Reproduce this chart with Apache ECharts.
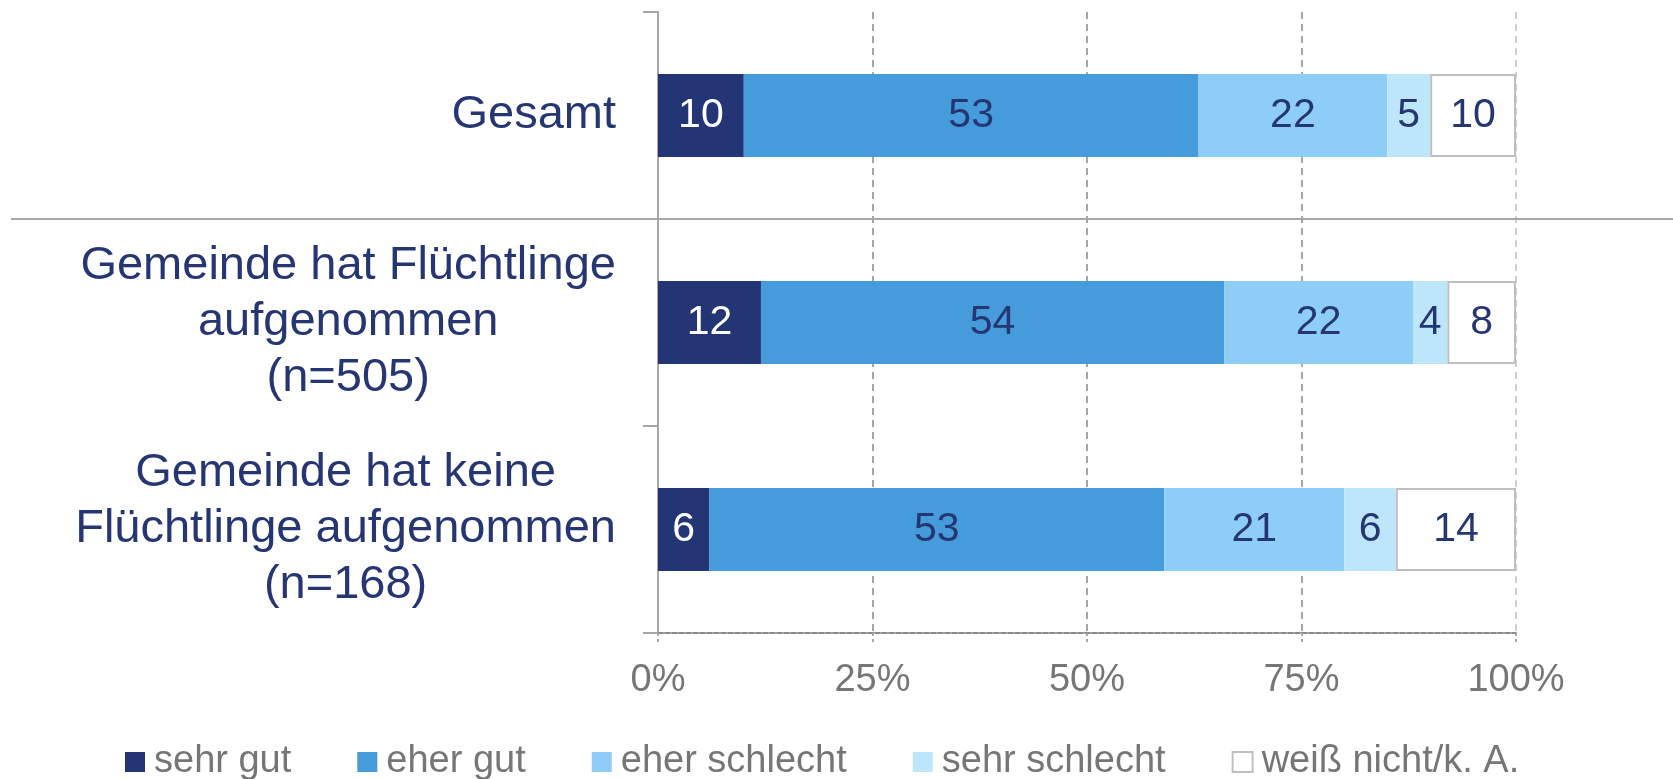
<!DOCTYPE html>
<html>
<head>
<meta charset="utf-8">
<script src="https://cdn.jsdelivr.net/npm/echarts@6/dist/echarts.min.js"></script>
<style>
  html, body { margin: 0; padding: 0; background: #fff; }
  #chart { width: 1673px; height: 779px; }
</style>
</head>
<body>
<div id="chart"></div>
<script>
// data
var categories = [
  'Gesamt',
  'Gemeinde hat Flüchtlinge\naufgenommen\n(n=505)',
  'Gemeinde hat keine\nFlüchtlinge aufgenommen\n(n=168)'
]
var sehrGut = [10, 12, 6]
var eherGut = [53, 54, 53]
var eherSchlecht = [22, 22, 21]
var sehrSchlecht = [5, 4, 6]
var weissNicht = [10, 8, 14]
var seriesNames = ['sehr gut', 'eher gut', 'eher schlecht', 'sehr schlecht', 'weiß nicht/k. A.']

var FONT = '"Liberation Sans", Arial, sans-serif'
var NAVY = '#253672'
var GREY = '#767676'

function makeSeries (name, data, color, labelColor, extra) {
  var s = {
    name: name,
    type: 'bar',
    stack: 'total',
    barWidth: '40%',
    data: data,
    itemStyle: { color: color },
    label: {
      show: true,
      position: 'inside',
      color: labelColor,
      fontSize: 41,
      fontFamily: FONT
    }
  }
  if (extra) s.itemStyle = Object.assign(s.itemStyle, extra)
  return s
}

var chart = echarts.init(document.getElementById('chart'))

var option = {
  animation: false,
  backgroundColor: '#fff',
  grid: { left: 658, right: 157, top: 12, bottom: 146 },
  legend: {
    top: 738,
    left: 120,
    itemWidth: 20,
    itemHeight: 20,
    itemGap: 66,
    icon: 'rect',
    textStyle: { color: GREY, fontSize: 38, fontFamily: FONT, padding: [0, 0, 0, 4] },
    data: seriesNames
  },
  xAxis: {
    type: 'value',
    min: 0,
    max: 100,
    interval: 25,
    axisLine: { show: true, lineStyle: { color: '#8a8a8a', width: 2, type: [5, 2] } },
    axisTick: { show: true, length: 10, lineStyle: { color: '#a6a6a6', width: 2, type: [3, 3] } },
    axisLabel: {
      color: GREY,
      fontSize: 38,
      fontFamily: FONT,
      margin: 29,
      formatter: '{value}%'
    },
    splitLine: {
      show: true,
      lineStyle: {
        color: ['#a6a6a6', '#a6a6a6', '#a6a6a6', '#a6a6a6', '#d0d0d0'],
        width: 2,
        type: [7, 5]
      }
    }
  },
  yAxis: {
    type: 'category',
    inverse: true,
    data: categories,
    axisLine: { show: true, lineStyle: { color: '#a6a6a6', width: 2 } },
    axisTick: { show: true, length: 15, lineStyle: { color: '#a6a6a6', width: 2 } },
    axisLabel: {
      margin: 42,
      color: NAVY,
      fontSize: 47,
      fontFamily: FONT,
      lineHeight: 56,
      formatter: function (value) {
        if (value.indexOf('\n') < 0) return value
        return value.split('\n').map(function (l) { return '{c|' + l + '}' }).join('\n')
      },
      rich: {
        c: { align: 'center', color: NAVY, fontSize: 47, lineHeight: 56, fontFamily: FONT }
      }
    }
  },
  series: [
    makeSeries(seriesNames[0], sehrGut, '#233574', '#ffffff'),
    makeSeries(seriesNames[1], eherGut, '#469bdb', NAVY),
    makeSeries(seriesNames[2], eherSchlecht, '#8ecdf6', NAVY),
    makeSeries(seriesNames[3], sehrSchlecht, '#bde6fb', NAVY),
    makeSeries(seriesNames[4], weissNicht, '#ffffff', NAVY, { borderColor: '#bfbfbf', borderWidth: 2 })
  ]
}

chart.setOption(option)

// grey separator between "Gesamt" and the two subgroups
var y0 = chart.convertToPixel({ yAxisIndex: 0 }, categories[0])
var y1 = chart.convertToPixel({ yAxisIndex: 0 }, categories[1])
var sepY = Math.round((y0 + y1) / 2)
chart.setOption({
  graphic: [{
    type: 'line',
    z: 0,
    shape: { x1: 11, y1: sepY, x2: 1673, y2: sepY },
    style: { stroke: '#a6a6a6', lineWidth: 2 }
  }]
})
</script>
</body>
</html>
